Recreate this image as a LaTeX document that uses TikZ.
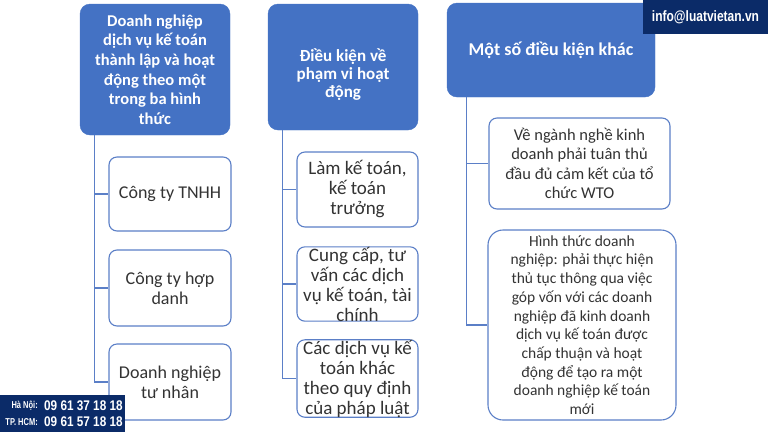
\documentclass[tikz,border=0pt]{standalone}
\usepackage{fontspec}
\setmainfont{Carlito}
\newfontfamily\brandfont{Liberation Sans}
\definecolor{hdrblue}{HTML}{4472C4}
\definecolor{boxline}{HTML}{5B7FC7}
\definecolor{navy}{HTML}{0B2B68}
\definecolor{txtgray}{HTML}{333333}
\begin{document}
\begin{tikzpicture}[x=1pt,y=-1pt,
  head/.style={draw=hdrblue, fill=hdrblue, rounded corners=10pt, text=white, align=center, inner sep=0pt,
    font=\fontsize{16.5}{19.6}\selectfont\bfseries},
  item/.style={draw=boxline, line width=1.1pt, fill=white, rounded corners=8pt, text=txtgray, align=center, inner sep=0pt,
    font=\fontsize{18}{20}\selectfont},
  link/.style={draw=boxline, line width=1.1pt},
  brand/.style={fill=navy, inner sep=0pt, text=white}]
\useasboundingbox (0,0) rectangle (768,432);
\node[head, minimum width=150pt, minimum height=131pt] (h1) at (155,69.5) {Doanh nghiệp\\dịch vụ kế toán\\thành lập và hoạt\\động theo một\\trong ba hình\\thức};
\node[head, minimum width=150pt, minimum height=126pt] (h2) at (343,67) {};
\node[text=white, align=center, inner sep=0pt, font=\fontsize{17}{18}\selectfont\bfseries] (h2text) at (343,75) {Điều kiện về\\phạm vi hoạt\\động};
\node[head, minimum width=208pt, minimum height=94pt, font=\fontsize{18}{20}\selectfont\bfseries] (h3) at (551,50) {Một số điều kiện khác};
\node[item, minimum width=122pt, minimum height=74pt] (c11) at (170,194) {Công ty TNHH};
\node[item, minimum width=122pt, minimum height=76pt] (c12) at (170,288) {Công ty hợp\\danh};
\node[item, minimum width=122pt, minimum height=76pt] (c13) at (170,382) {Doanh nghiệp\\tư nhân};
\node[item, minimum width=121pt, minimum height=75pt, font=\fontsize{19}{20}\selectfont] (c21) at (357.5,189.5) {Làm kế toán,\\kế toán\\trưởng};
\node[item, minimum width=121pt, minimum height=74pt, font=\fontsize{19}{20}\selectfont] (c22) at (357.5,284) {Cung cấp, tư\\vấn các dịch\\vụ kế toán, tài\\chính};
\node[item, minimum width=121pt, minimum height=73pt, font=\fontsize{19}{20}\selectfont] (c23) at (357.5,378.5) {Các dịch vụ kế\\toán khác\\theo quy định\\của pháp luật};
\node[item, minimum width=181pt, minimum height=91pt, font=\fontsize{16.5}{19.3}\selectfont] (c31) at (579.5,163.5) {Về ngành nghề kinh\\doanh phải tuân thủ\\đầu đủ cảm kết của tổ\\chức WTO};
\node[item, minimum width=188pt, minimum height=190pt, rounded corners=15pt, font=\fontsize{15.5}{18.7}\selectfont] (c32) at (582,325) {Hình thức doanh\\nghiệp: phải thực hiện\\thủ tục thông qua việc\\góp vốn với các doanh\\nghiệp đã kinh doanh\\dịch vụ kế toán được\\chấp thuận và hoạt\\động để tạo ra một\\doanh nghiệp kế toán\\mới};
\coordinate (t1) at ([xshift=15pt]h1.south west);
\coordinate (t2) at ([xshift=15pt]h2.south west);
\coordinate (t3) at ([xshift=20pt]h3.south west);
\path[link] (t1) |- (c11.west);
\path[link] (t1) |- (c12.west);
\path[link] (t1) |- (c13.west);
\path[link] (t2) |- (c21.west);
\path[link] (t2) |- (c22.west);
\path[link] (t2) |- (c23.west);
\path[link] (t3) |- (c31.west);
\path[link] (t3) |- (c32.west);
\node[brand, minimum width=125pt, minimum height=34pt] (info) at (705.5,17) {\brandfont\bfseries\fontsize{15}{15}\selectfont\scalebox{0.8}[1]{info@luatvietan.vn}};
\node[brand, minimum width=125pt, minimum height=37pt] (phone) at (62.5,413.5) {};
\node[text=white, inner sep=0pt, anchor=east] (hn) at (38,406) {\brandfont\bfseries\fontsize{10}{10}\selectfont\scalebox{0.75}[1]{Hà Nội:}};
\node[text=white, inner sep=0pt, anchor=east] (hcm) at (38,422) {\brandfont\bfseries\fontsize{10}{10}\selectfont\scalebox{0.75}[1]{TP. HCM:}};
\node[text=white, inner sep=0pt, anchor=west] (hnnum) at (44,406) {\brandfont\bfseries\fontsize{14}{14}\selectfont\scalebox{0.84}[1]{09 61 37 18 18}};
\node[text=white, inner sep=0pt, anchor=west] (hcmnum) at (44,422) {\brandfont\bfseries\fontsize{14}{14}\selectfont\scalebox{0.84}[1]{09 61 57 18 18}};
\end{tikzpicture}
\end{document}
